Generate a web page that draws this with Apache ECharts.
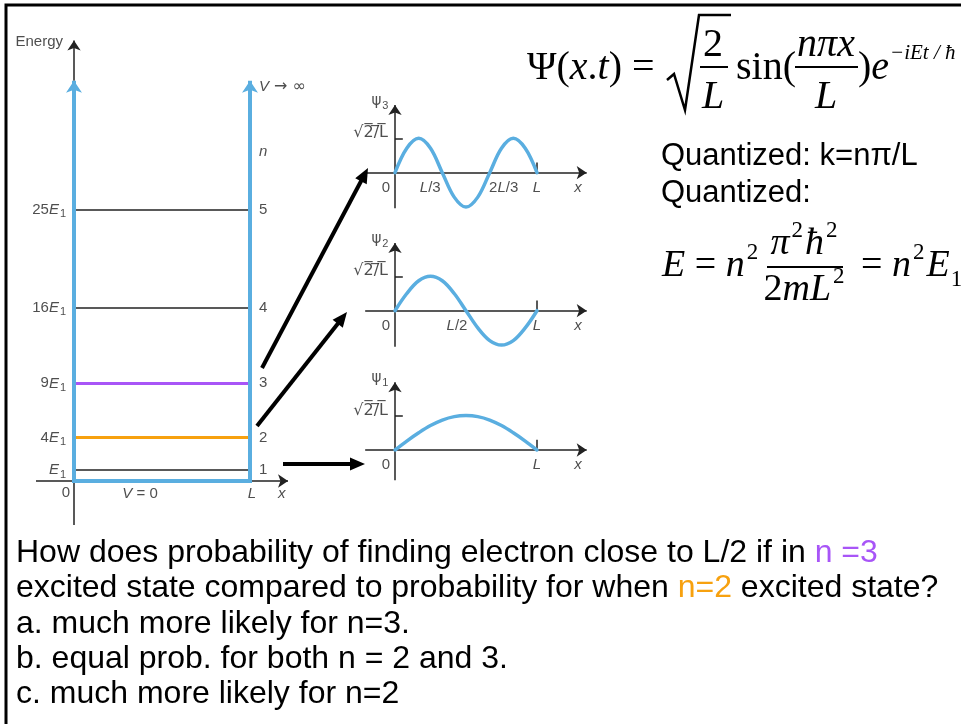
<!DOCTYPE html>
<html><head><meta charset="utf-8">
<script src="https://cdn.jsdelivr.net/npm/echarts@6/dist/echarts.min.js"></script>
<style>html,body{margin:0;padding:0;background:#fff}#c{width:961px;height:724px}</style>
</head><body><div id="c"></div>
<script>
// ---------------- DATA ----------------
const levelN = [1, 2, 3, 4, 5];
const levelEnergy = [1, 4, 9, 16, 25];            // in units of E1
const levelCoef = ['', '4', '9', '16', '25'];
const psiX  = [0, 0.083, 0.167, 0.25, 0.333, 0.417, 0.5, 0.583, 0.667, 0.75, 0.833, 0.917, 1];
const psi1  = [0, 0.26, 0.5, 0.71, 0.87, 0.97, 1, 0.97, 0.87, 0.71, 0.5, 0.26, 0];
const psi2  = [0, 0.5, 0.87, 1, 0.87, 0.5, 0, -0.5, -0.87, -1, -0.87, -0.5, 0];
const psi3  = [0, 0.71, 1, 0.71, 0, -0.71, -1, -0.71, 0, 0.71, 1, 0.71, 0];
const psi3TickX = [0.333, 0.667, 1];
const psi3TickLabels = ['L/3', '2L/3', 'L'];
const psi2TickX = [0.5, 1];
const psi2TickLabels = ['L/2', 'L'];
const psi1TickX = [1];
const psi1TickLabels = ['L'];
const questionLines = [
  [['How does probability of finding electron close to L/2 if in ', 'k'], ['n =3', 'p']],
  [['excited state compared to probability for when ', 'k'], ['n=2', 'o'], [' excited state?', 'k']],
  [['a. much more likely for n=3.', 'k']],
  [['b. equal prob. for both n = 2 and 3.', 'k']],
  [['c. much more likely for n=2', 'k']]
];

// ---------------- STYLE ----------------
const BLUE = '#5aaee0', PURPLE = '#a855f7', ORANGE = '#f7a10f', INK = '#222';
const SANS = '"Liberation Sans", Arial, sans-serif';
const SERIF = '"Liberation Serif", "Times New Roman", serif';
const levelColor = [INK, ORANGE, PURPLE, INK, INK];
const levelWidth = [1.5, 3, 3, 1.5, 1.5];

const smallRich = {
  n: { fontFamily: SANS, fontSize: 15, color: INK, lineHeight: 20, verticalAlign: 'middle' },
  i: { fontFamily: SANS, fontSize: 15, color: INK, fontStyle: 'italic', lineHeight: 20, verticalAlign: 'middle' },
  s: { fontFamily: SANS, fontSize: 11, color: INK, lineHeight: 11, verticalAlign: 'bottom', padding: [0, 0, 0, 1] },
  o: { fontFamily: 'DejaVu Sans', fontSize: 15, color: INK, lineHeight: 20, verticalAlign: 'middle' },
  r: { fontFamily: 'DejaVu Sans', fontSize: 16, color: INK, lineHeight: 20, verticalAlign: 'middle' }
};
function italicize(t) {
  return t.split(/([A-Za-z]+)/).filter(s => s.length).map(s => /[A-Za-z]/.test(s) ? '{i|' + s + '}' : '{n|' + s + '}').join('');
}
function lbl(value, formatter, offset) {
  return { value: value, label: { show: true, formatter: formatter, position: 'inside', offset: offset || [0, 0], rich: smallRich } };
}

// ---------------- GRIDS ----------------
const PXE = 10.85;
const E_AX = 481;
const grids = [{ left: 30, top: E_AX - 41 * PXE, width: 264, height: 45.2 * PXE }];
const xAxes = [{ gridIndex: 0, type: 'value', min: -0.25, max: 1.25, show: false }];
const yAxes = [{ gridIndex: 0, type: 'value', min: -4.2, max: 41, show: false }];

const panels = [
  { y: psi3, axisY: 172.7, bottom: -1.03, ticks: psi3TickX, tickLabels: psi3TickLabels, tickOff: [-12, 14, 0], name: '3' },
  { y: psi2, axisY: 310.7, bottom: -1.05, ticks: psi2TickX, tickLabels: psi2TickLabels, tickOff: [-9, 0], name: '2' },
  { y: psi1, axisY: 450.0, bottom: -0.88, ticks: psi1TickX, tickLabels: psi1TickLabels, tickOff: [0], name: '1' }
];
const PXA = 34.4, X0 = 395, PXX = 142;
panels.forEach((p, k) => {
  grids.push({ left: X0 - 0.25 * PXX, width: 1.65 * PXX, top: p.axisY - 2.1 * PXA, height: 3.2 * PXA });
  xAxes.push({ gridIndex: k + 1, type: 'value', min: -0.25, max: 1.4, show: false });
  yAxes.push({ gridIndex: k + 1, type: 'value', min: -1.1, max: 2.1, show: false });
});

// ---------------- SERIES ----------------
const series = [];
function segs(ax, data, color, width, arrow, z, cap) {
  series.push({
    type: 'lines', coordinateSystem: 'cartesian2d', xAxisIndex: ax, yAxisIndex: ax, z: z || 2,
    symbol: arrow ? ['none', 'arrow'] : ['none', 'none'], symbolSize: arrow || 0,
    lineStyle: { color: color, width: width, opacity: 1, curveness: 0, cap: cap || 'butt' },
    data: data.map(c => ({ coords: c })), silent: true, animation: false
  });
}
segs(0, [[[0, 36.9], [0, 40.6]], [[-0.216, 0], [1.216, 0]]], INK, 1.5, [8, 10], 1);
segs(0, [[[0, 0], [0, -4.05]]], INK, 1.5, 0, 1);
series.push({
  type: 'lines', coordinateSystem: 'cartesian2d', xAxisIndex: 0, yAxisIndex: 0, z: 2, silent: true, animation: false,
  symbol: ['none', 'none'],
  lineStyle: { opacity: 1 },
  data: levelEnergy.map((e, i) => ({ coords: [[0, e], [1, e]], lineStyle: { color: levelColor[i], width: levelWidth[i], opacity: 1 } }))
});
segs(0, [[[0, 0], [0, 36.9]], [[1, 0], [1, 36.9]]], BLUE, 4, [8, 12], 3);
segs(0, [[[0, 0], [1, 0]]], BLUE, 4, 0, 3, 'square');
const eLabels = [];
levelEnergy.forEach((e, i) => {
  eLabels.push({ value: [0, e], label: { show: true, position: 'left', distance: 8, rich: smallRich,
    formatter: (levelCoef[i] ? '{n|' + levelCoef[i] + '}' : '') + '{i|E}{s|1}' } });
  eLabels.push({ value: [1, e], label: { show: true, position: 'right', distance: 9, rich: smallRich,
    formatter: '{n|' + levelN[i] + '}' } });
});
eLabels.push({ value: [1, 30.3], label: { show: true, position: 'right', distance: 9, rich: smallRich, formatter: '{i|n}' } });
eLabels.push({ value: [1, 36.3], label: { show: true, position: 'right', distance: 9, rich: smallRich, formatter: '{i|V}{r| → ∞}' } });
eLabels.push({ value: [0, 40.45], label: { show: true, position: 'left', distance: 11, rich: smallRich, formatter: '{n|Energy}' } });
eLabels.push({ value: [0, 0], label: { show: true, position: 'left', distance: 4, offset: [0, 12], rich: smallRich, formatter: '{n|0}' } });
eLabels.push(lbl([0.375, 0], '{i|V}{n| = 0}', [0, 13]));
eLabels.push(lbl([1, 0], '{i|L}', [2, 13]));
eLabels.push(lbl([1.18, 0], '{i|x}', [0, 13]));
series.push({ type: 'scatter', xAxisIndex: 0, yAxisIndex: 0, symbolSize: 0, z: 5, silent: true, animation: false, data: eLabels });

panels.forEach((p, k) => {
  const ax = k + 1;
  segs(ax, [[[-0.21, 0], [1.35, 0]], [[0, p.bottom], [0, 1.97]]], INK, 1.5, [7, 10], 1);
  segs(ax, [[[0, 1], [0.055, 1]], [[1, 0], [1, 0.3]]], INK, 1.5, 0, 1);
  series.push({
    type: 'line', xAxisIndex: ax, yAxisIndex: ax, smooth: 0.35, showSymbol: false, symbol: 'none', z: 3,
    lineStyle: { color: BLUE, width: 3.5, cap: 'round' }, silent: true, animation: false,
    data: psiX.map((x, j) => [x, p.y[j]])
  });
  const labs = [];
  labs.push(lbl([-0.106, 2.08], '{o|ψ}{s|' + p.name + '}', [0, 0]));
  labs.push({ value: [0, 1], label: { show: true, position: 'left', distance: 7, offset: [0, -5], rich: smallRich,
    formatter: '{r|√2\u0305/\u0305L\u0305}' } });
  labs.push({ value: [0, 0], label: { show: true, position: 'left', distance: 5, offset: [0, 15], rich: smallRich, formatter: '{n|0}' } });
  p.ticks.forEach((tx, j) => labs.push(lbl([tx, 0], italicize(p.tickLabels[j]), [p.tickOff[j], 15])));
  labs.push(lbl([1.289, 0], '{i|x}', [0, 15]));
  series.push({ type: 'scatter', xAxisIndex: ax, yAxisIndex: ax, symbolSize: 0, z: 5, silent: true, animation: false, data: labs });
});

// ---------------- GRAPHIC (annotations) ----------------
const graphic = [];
graphic.push({ type: 'polyline', shape: { points: [[6, 724], [6, 5], [961, 5]] }, style: { stroke: '#000', lineWidth: 3, fill: null }, z: 20 });
function arrow(x1, y1, x2, y2) {
  const dx = x2 - x1, dy = y2 - y1, L = Math.hypot(dx, dy), ux = dx / L, uy = dy / L;
  const hl = 15, hw = 6.5;
  const bx = x2 - ux * hl, by = y2 - uy * hl;
  graphic.push({ type: 'line', shape: { x1: x1, y1: y1, x2: bx + ux * 2, y2: by + uy * 2 }, style: { stroke: '#000', lineWidth: 4 }, z: 20 });
  graphic.push({ type: 'polygon', shape: { points: [[x2, y2], [bx - uy * hw, by + ux * hw], [bx + uy * hw, by - ux * hw]] }, style: { fill: '#000' }, z: 20 });
}
arrow(262, 368, 368, 168);
arrow(257, 426, 347, 312);
arrow(283, 464, 365, 464);

function mkRich(fs) {
  return {
    n: { fontFamily: SERIF, fontSize: fs, fill: '#000', lineHeight: 50, verticalAlign: 'middle' },
    i: { fontFamily: SERIF, fontSize: fs, fill: '#000', fontStyle: 'italic', lineHeight: 50, verticalAlign: 'middle' },
    s: { fontFamily: SERIF, fontSize: 23, fill: '#000', lineHeight: 23, verticalAlign: 'top', padding: [0, 2, 0, 2] },
    b: { fontFamily: SERIF, fontSize: 23, fill: '#000', lineHeight: 23, verticalAlign: 'bottom', padding: [0, 0, 0, 1] },
    si: { fontFamily: SERIF, fontSize: 21, fill: '#000', fontStyle: 'italic' }
  };
}
const eqRich = mkRich(40), eqRich2 = mkRich(38);
function gt(x, y, text, align, rich) {
  graphic.push({ type: 'text', x: x, y: y, z: 20, style: { text: text, rich: rich || eqRich, align: align || 'left', verticalAlign: 'middle' } });
}
function gl(x1, y1, x2, y2, w) {
  graphic.push({ type: 'line', shape: { x1: x1, y1: y1, x2: x2, y2: y2 }, style: { stroke: '#000', lineWidth: w || 2 }, z: 20 });
}
gt(527, 68, '{n|Ψ(}{i|x}{n|.}{i|t}{n|) =}');
graphic.push({ type: 'polyline', shape: { points: [[667, 80], [674, 74], [685, 110], [699, 15], [731, 15]] }, style: { stroke: '#000', lineWidth: 2.5, fill: null }, z: 20 });
gt(713, 45, '{n|2}', 'center');
gl(700, 67, 728, 67);
gt(713, 97, '{i|L}', 'center');
gt(736, 68, '{n|sin(}');
gt(826, 45, '{i|nπx}', 'center');
gl(795, 67, 858, 67);
gt(826, 97, '{i|L}', 'center');
gt(858, 68, '{n|)}{i|e}');
gt(890, 53, '{si|−iEt / ħ}');
const qRich = { k: { fontFamily: SANS, fontSize: 31, fill: '#000' } };
gt(661, 156, '{k|Quantized: k=nπ/L}', 'left', qRich);
gt(661, 193, '{k|Quantized:}', 'left', qRich);
gt(662, 266, '{i|E}{n| = }{i|n}{s|2}', 'left', eqRich2);
gt(805, 244, '{i|π}{s|2}{i|ħ}{s|2}', 'center', eqRich2);
gl(767, 267, 843, 267);
gt(805, 290, '{n|2}{i|mL}{s|2}', 'center', eqRich2);
gt(861, 266, '{n|=}{i| n}{s|2}{i|E}{b|1}', 'left', eqRich2);

const bRich = {
  k: { fontFamily: SANS, fontSize: 32, fill: '#000' },
  p: { fontFamily: SANS, fontSize: 32, fill: PURPLE },
  o: { fontFamily: SANS, fontSize: 32, fill: ORANGE }
};
const qy = [553, 588, 624, 659, 694];
questionLines.forEach((line, i) => {
  gt(16, qy[i], line.map(s => '{' + s[1] + '|' + s[0] + '}').join(''), 'left', bRich);
});

const chart = echarts.init(document.getElementById('c'), null, { renderer: 'canvas' });
chart.setOption({
  animation: false,
  backgroundColor: '#fff',
  grid: grids, xAxis: xAxes, yAxis: yAxes,
  series: series,
  graphic: graphic
});
</script></body></html>
